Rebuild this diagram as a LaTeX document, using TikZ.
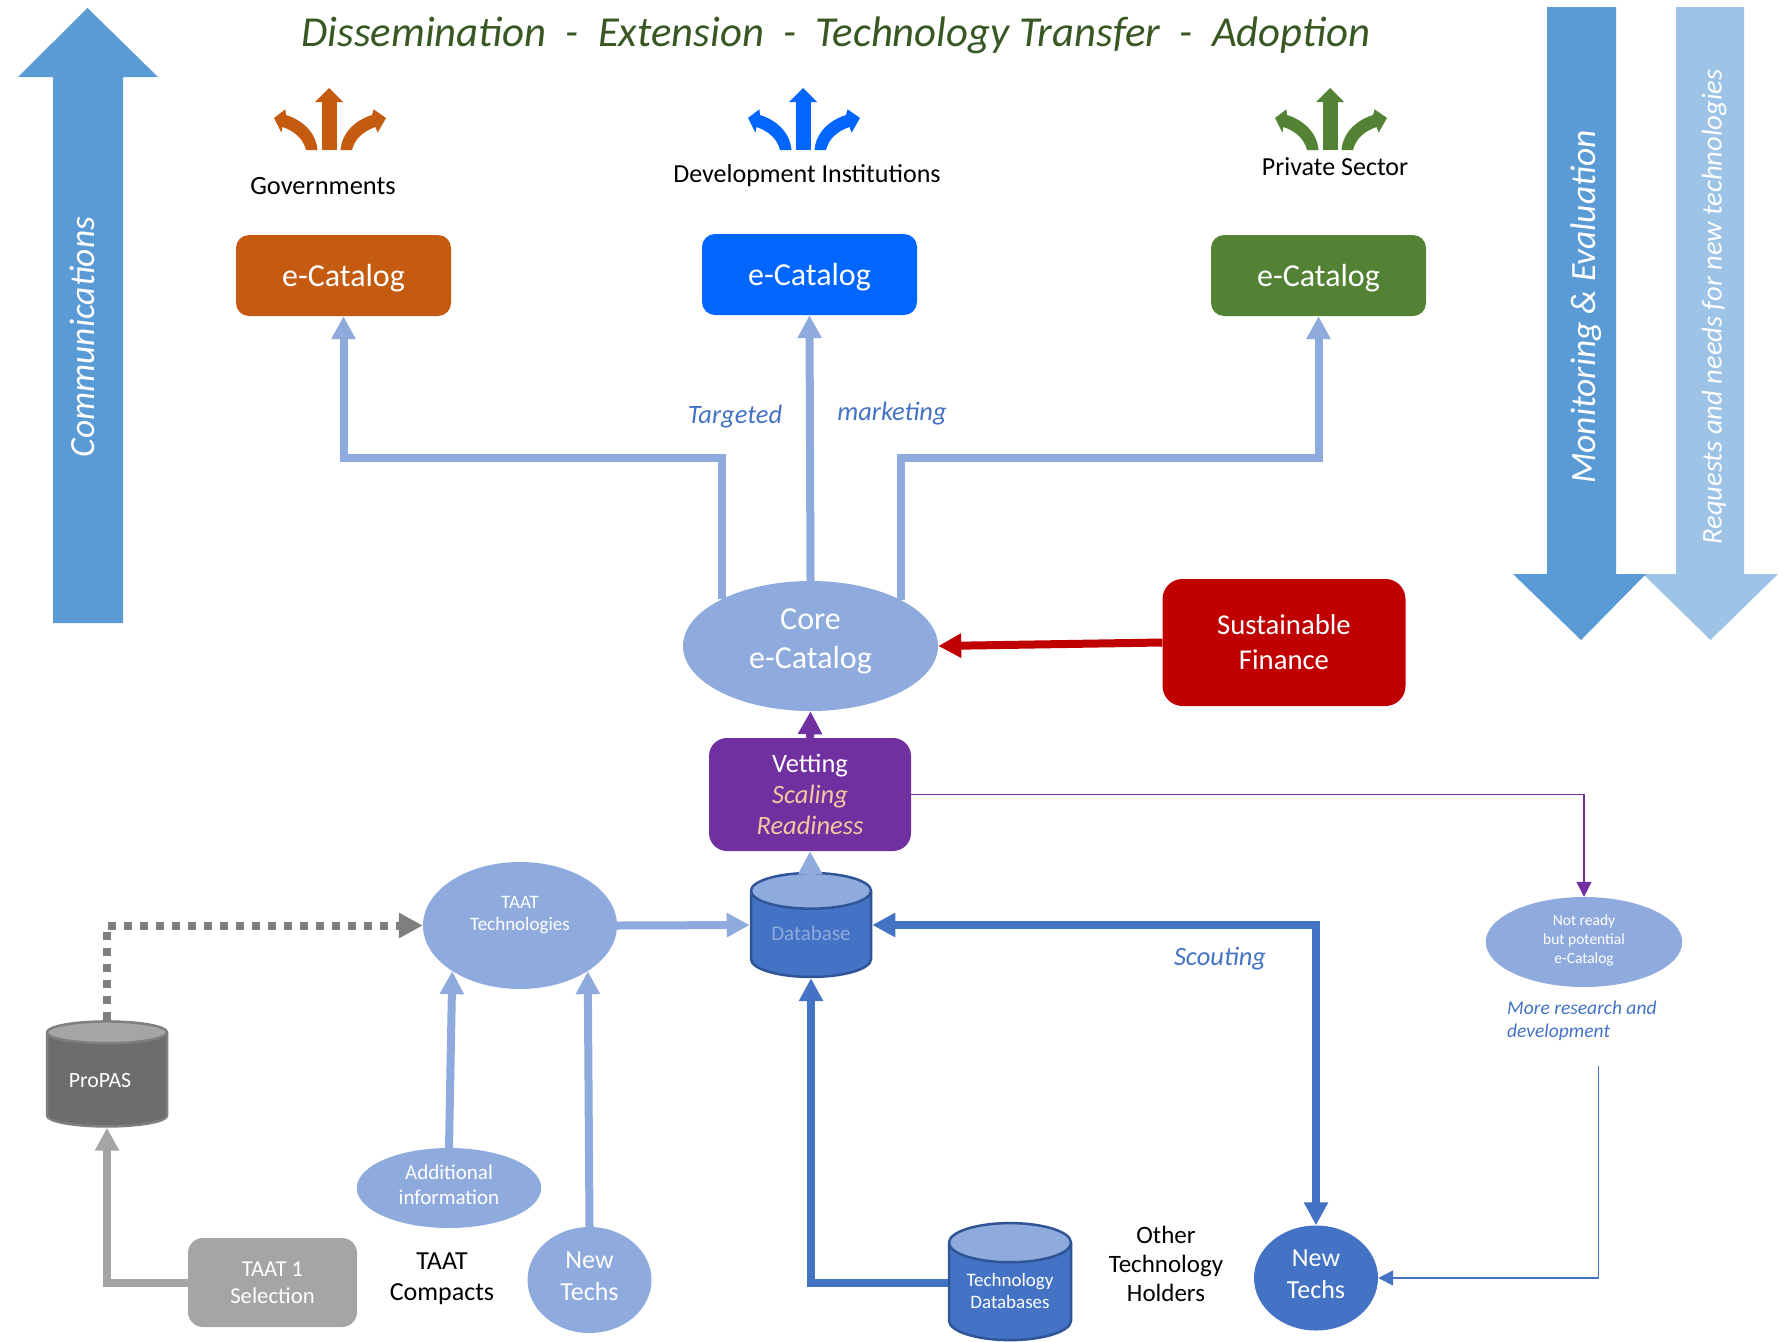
\documentclass[tikz,border=0pt]{standalone}
\usepackage{fontspec}
\setmainfont{Carlito}
\usetikzlibrary{arrows.meta,shapes.geometric,calc}
\definecolor{lblue}{HTML}{8FAADC}
\definecolor{mblue}{HTML}{4472C4}
\definecolor{dblue}{HTML}{2F5597}
\definecolor{abar}{HTML}{5B9BD5}
\definecolor{abarl}{HTML}{9DC3E6}
\definecolor{orng}{HTML}{C55A11}
\definecolor{brblue}{HTML}{0066FF}
\definecolor{grn}{HTML}{548235}
\definecolor{dgrn}{HTML}{385723}
\definecolor{purp}{HTML}{7030A0}
\definecolor{crim}{HTML}{C00000}
\definecolor{gry}{HTML}{A5A5A5}
\definecolor{dgry}{HTML}{7F7F7F}
\definecolor{bgry}{HTML}{6F6C6C}
\definecolor{peach}{HTML}{F4C7A0}
\newcommand{\fs}[2]{\fontsize{#1}{#2}\selectfont}
\tikzset{
  x=1pt,y=-1pt,
  catbox/.style={rounded corners=13pt,minimum width=215pt,minimum height=81pt,inner sep=0pt,text=white,text depth=-1pt,font=\fs{32}{38}},
  oval/.style={ellipse,inner sep=0pt,fill=lblue,text=white,align=center},
  txt/.style={inner sep=0pt,align=center},
  lab/.style={inner sep=0pt,text=mblue,font=\fs{26.5}{31}\itshape},
  conn/.style={line width=8pt,-{Triangle[length=23pt,width=23pt]}},
  thinconn/.style={line width=1.5pt,-{Triangle[length=15pt,width=15pt]}},
  dbase/.style={cylinder,shape border rotate=90,cylinder uses custom fill,inner sep=0pt,draw,line width=2.5pt,align=center,text=white},
  triple/.pic={
    \fill (-7.5,0) rectangle (7.5,-48);
    \fill (-14,-48) -- (0,-62) -- (14,-48) -- cycle;
    \fill (-11.5,0) .. controls (-13,-18) and (-27,-30) .. (-43,-35) -- (-43.6,-40.7) -- (-55,-32) -- (-47.6,-17.3) -- (-46.5,-23) .. controls (-35,-19) and (-26,-12) .. (-23,0) -- cycle;
    \fill (11.5,0) .. controls (13,-18) and (27,-30) .. (43,-35) -- (44.6,-40.7) -- (57,-32) -- (48.6,-17.3) -- (46.5,-23) .. controls (35,-19) and (26,-12) .. (23,0) -- cycle;
  }
}
\begin{document}
\begin{tikzpicture}
\useasboundingbox (0,0) rectangle (1790,1341);
% side bars
\fill[abar] (53,623) -- (53,77) -- (18,77) -- (87.5,8) -- (158,77) -- (123,77) -- (123,623) -- cycle;
\fill[abarl] (1676,7) -- (1744,7) -- (1744,574) -- (1778,574) -- (1710.5,640) -- (1643,574) -- (1676,574) -- cycle;
\fill[abar] (1547,7) -- (1616,7) -- (1616,574) -- (1646,574) -- (1581,640) -- (1513,574) -- (1547,574) -- cycle;
\node[txt,rotate=90,text=white,font=\fs{35.5}{40}\itshape] (comm) at (82,337) {Communications};
\node[txt,rotate=90,text=white,font=\fs{35.5}{40}\itshape] (mande) at (1586,307) {Monitoring \& Evaluation};
\node[txt,rotate=90,text=white,font=\fs{28.6}{33}\itshape] (reqs) at (1714,307) {Requests and needs for new technologies};
% title
\node[txt,text=dgrn,font=\fs{42.7}{48}\itshape] (title) at (836,35) {Dissemination\ \ -\ \ Extension\ \ -\ \ Technology Transfer\ \ -\ \ Adoption};
% triple arrows
\pic[orng] at (329,150) {triple};
\pic[brblue] at (803,150) {triple};
\pic[grn] at (1330,150) {triple};
\node[txt,font=\fs{26.4}{31}] (gov) at (323,186) {Governments};
\node[txt,font=\fs{26}{31}] (dev) at (807,176) {Development Institutions};
\node[txt,font=\fs{26}{31}] (priv) at (1335,167) {Private Sector};
% e-catalogs
\node[catbox,fill=orng] (cato) at (343.5,275.5) {e-Catalog};
\node[catbox,fill=brblue] (catb) at (809.5,274.5) {e-Catalog};
\node[catbox,fill=grn] (catg) at (1318.5,275.5) {e-Catalog};
% core
\node[oval,minimum width=255pt,minimum height=130pt,text depth=14pt,font=\fs{32}{39}] (core) at (810.5,646) {Core\\e-Catalog};
\node[rounded corners=20pt,fill=crim,text=white,align=center,inner sep=0pt,minimum width=243pt,minimum height=127pt,text depth=-1pt,font=\fs{28.7}{35}] (fin) at (1284,642.5) {Sustainable\\Finance};
\node[rounded corners=18pt,fill=purp,text=white,align=center,inner sep=0pt,minimum width=202pt,minimum height=113pt,font=\fs{26.5}{31}] (vet) at (810,794.5) {Vetting\\{\color{peach}\itshape Scaling}\\{\color{peach}\itshape Readiness}};
% databases
\node[dbase,draw=dblue,cylinder body fill=mblue,cylinder end fill=lblue,text=lblue,minimum width=120pt,minimum height=104pt,aspect=0.45,font=\fs{21}{24}] (db) at (811,934.5) {\raisebox{3.4pt}{Database}};
\node[dbase,draw=dgry,cylinder body fill=bgry,cylinder end fill=gry,minimum width=120pt,minimum height=105pt,aspect=0.45,font=\fs{21.8}{24}] (pro) at (107,1080) {\hspace{-14pt}ProPAS};
\node[dbase,draw=dblue,cylinder body fill=mblue,cylinder end fill=lblue,minimum width=122pt,minimum height=117pt,aspect=0.45,font=\fs{19}{22}] (tdb) at (1010,1292) {\raisebox{2pt}{Technology}\\\raisebox{2pt}{Databases}};
% ovals
\node[oval,minimum width=194pt,minimum height=127pt,text depth=2pt,font=\fs{19}{22}] (taat) at (520,925.5) {TAAT\\Technologies\\ };
\node[oval,minimum width=184.5pt,minimum height=80pt,text depth=7pt,font=\fs{21}{25}] (add) at (449,1188) {Additional\\information};
\node[oval,minimum width=124pt,minimum height=106pt,text depth=7pt,font=\fs{26}{32}] (newl) at (589.5,1280) {New\\Techs};
\node[oval,fill=mblue,minimum width=124pt,minimum height=105pt,text depth=7pt,font=\fs{26}{32}] (newr) at (1316,1278) {New\\Techs};
\node[oval,minimum width=196.5pt,minimum height=90pt,text depth=5pt,font=\fs{15.5}{19}] (nr) at (1584,942) {Not ready\\but potential\\e-Catalog};
\node[rounded corners=15pt,fill=gry,text=white,align=center,inner sep=0pt,minimum width=169pt,minimum height=89pt,font=\fs{22.7}{27}] (t1) at (272.5,1282.5) {TAAT 1\\Selection};
% plain texts
\node[txt,font=\fs{26}{31}] (comp) at (442,1279) {TAAT\\Compacts};
\node[txt,font=\fs{25}{29}] (oth) at (1166,1264) {Other\\Technology\\Holders};
\node[lab] (targ) at (735,417) {Targeted};
\node[lab] (mkt) at (892,414) {marketing};
\node[lab] (sco) at (1220,959) {Scouting};
\node[inner sep=0pt,text=mblue,align=left,anchor=west,font=\fs{19.5}{23}\itshape] (more) at (1507,1020.5) {More research and\\development};
% connectors
\coordinate (elbl) at (721,458);
\coordinate (elbr) at (901,458);
\coordinate (dbrow) at (811,925);
\coordinate (dbtop) at (810.5,899);
\coordinate (tdbrow) at (811,1283);
\draw[conn,lblue] (core.152.6) -- (core.152.6 |- elbl) -| (cato.south);
\draw[conn,lblue] (core.north) -- (catb.south);
\draw[conn,lblue] (core.27.4) -- (core.27.4 |- elbr) -| (catg.south);
\draw[conn,crim] (fin.west) -- (core.east);
\draw[conn,purp] (vet.north) -- (core.south);
\draw[conn,lblue] (dbtop) -- (vet.south);
\draw[conn,lblue] (taat.east) -- (db.west |- dbrow);
\draw[conn,mblue,{Triangle[length=23pt,width=23pt]}-{Triangle[length=23pt,width=23pt]}] (db.east |- dbrow) -| (newr.north);
\draw[conn,mblue] (tdb.west |- tdbrow) -| (db.south);
\draw[conn,gry] (t1.west) -| (pro.south);
\draw[line width=8pt,dgry,dash pattern=on 8pt off 8pt,-{Triangle[length=24pt,width=24pt]}] (pro.north) |- (taat.west);
\draw[conn,lblue] (add.north) -- (taat.-146);
\draw[conn,lblue] (newl.north) -- (taat.-34);
\coordinate (rnd) at (1598.6,1066);
\draw[thinconn,mblue] (rnd) |- (newr.east);
\draw[thinconn,purp] (vet.east) -| (nr.north);
\end{tikzpicture}
\end{document}
